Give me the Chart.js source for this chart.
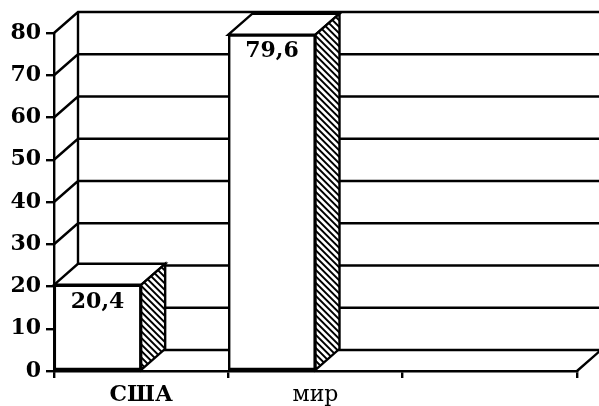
<!DOCTYPE html>
<html>
<head>
<meta charset="utf-8">
<script src="https://cdn.jsdelivr.net/npm/chart.js@4.4.1/dist/chart.umd.min.js"></script>
<style>
  html, body { margin: 0; padding: 0; background: #fff; }
</style>
</head>
<body>
<canvas id="myChart" width="599" height="406"></canvas>
<script>
// data
const categories = ['США', 'мир', ''];
const values = [20.4, 79.6, null];
const valueLabels = ['20,4', '79,6', ''];
const yMin = 0;
const yMax = 80;
const yStep = 10;

// fake 3D depth of the box and bars
const depthX = 24;
const depthY = -21;
const serif = "'DejaVu Serif', serif";
const lw = 2.4;

const box3d = {
    id: 'box3d',
    beforeDatasetsDraw(chart) {
        const ctx = chart.ctx;
        const a = chart.chartArea;
        const y = chart.scales.y;
        ctx.save();
        ctx.strokeStyle = '#000';
        ctx.lineWidth = lw;
        ctx.beginPath();
        for (let v = yMin; v <= yMax; v += yStep) {
            const py = y.getPixelForValue(v);
            ctx.moveTo(a.left, py);
            ctx.lineTo(a.left + depthX, py + depthY);
            ctx.lineTo(a.right + depthX + 10, py + depthY);
        }
        // back left edge of the box
        ctx.moveTo(a.left + depthX, y.getPixelForValue(yMax) + depthY);
        ctx.lineTo(a.left + depthX, y.getPixelForValue(yMin) + depthY);
        // right edge of the floor
        ctx.moveTo(a.right, a.bottom);
        ctx.lineTo(a.right + depthX, a.bottom + depthY);
        ctx.stroke();
        ctx.restore();
    },
    afterDatasetsDraw(chart) {
        const ctx = chart.ctx;
        const meta = chart.getDatasetMeta(0);
        ctx.save();
        ctx.strokeStyle = '#000';
        meta.data.forEach((bar, i) => {
            if (values[i] == null) return;
            const p = bar.getProps(['x', 'y', 'base', 'width'], true);
            const l = p.x - p.width / 2;
            const r = p.x + p.width / 2;
            const top = p.y;
            const base = p.base;

            // top face
            ctx.beginPath();
            ctx.moveTo(l, top);
            ctx.lineTo(l + depthX, top + depthY);
            ctx.lineTo(r + depthX, top + depthY);
            ctx.lineTo(r, top);
            ctx.closePath();
            ctx.fillStyle = '#fff';
            ctx.fill();
            ctx.lineWidth = lw;
            ctx.stroke();

            // side face, hatched
            ctx.beginPath();
            ctx.moveTo(r, top);
            ctx.lineTo(r + depthX, top + depthY);
            ctx.lineTo(r + depthX, base + depthY);
            ctx.lineTo(r, base);
            ctx.closePath();
            ctx.fillStyle = '#fff';
            ctx.fill();
            ctx.save();
            ctx.clip();
            ctx.lineWidth = 2;
            ctx.beginPath();
            for (let k = top + depthY - depthX - 6; k < base + 6; k += 6.5) {
                ctx.moveTo(r - 2, k - 2);
                ctx.lineTo(r + depthX + 2, k + depthX + 2);
            }
            ctx.stroke();
            ctx.restore();
            ctx.lineWidth = lw;
            ctx.beginPath();
            ctx.moveTo(r, top);
            ctx.lineTo(r + depthX, top + depthY);
            ctx.lineTo(r + depthX, base + depthY);
            ctx.lineTo(r, base);
            ctx.closePath();
            ctx.stroke();

            // value label inside the front face
            ctx.fillStyle = '#000';
            ctx.font = 'bold 22px ' + serif;
            ctx.textAlign = 'center';
            ctx.textBaseline = 'middle';
            ctx.fillText(valueLabels[i], p.x, top + 17);
        });
        ctx.restore();
    }
};

const config = {
    type: 'bar',
    data: {
        labels: categories,
        datasets: [
            {
                data: values,
                backgroundColor: '#fff',
                borderColor: '#000',
                borderWidth: lw,
                borderSkipped: false,
                barPercentage: 1,
                categoryPercentage: 1
            },
            {
                // empty second slot so each bar sits in the left half of its category
                data: categories.map(() => null),
                barPercentage: 1,
                categoryPercentage: 1
            }
        ]
    },
    options: {
        responsive: false,
        animation: false,
        layout: {
            padding: { top: 33, right: 22, left: 0, bottom: 0 }
        },
        plugins: {
            legend: { display: false },
            tooltip: { enabled: false }
        },
        scales: {
            x: {
                grid: {
                    display: true,
                    drawOnChartArea: false,
                    tickLength: 7,
                    color: '#000',
                    lineWidth: lw
                },
                border: { display: true, color: '#000', width: lw },
                ticks: {
                    color: '#000',
                    padding: 4,
                    font: (c) => c.index === 0
                        ? { family: serif, size: 22, weight: 'bold' }
                        : { family: serif, size: 22, weight: 'normal' }
                },
                afterFit: (scale) => { scale.height = 35; }
            },
            y: {
                min: yMin,
                max: yMax,
                grid: {
                    display: true,
                    drawOnChartArea: false,
                    tickLength: 8,
                    color: '#000',
                    lineWidth: lw
                },
                border: { display: true, color: '#000', width: lw },
                ticks: {
                    stepSize: yStep,
                    color: '#000',
                    padding: 5,
                    font: { family: serif, size: 22, weight: 'bold' }
                },
                afterFit: (scale) => { scale.width = 54; }
            }
        }
    },
    plugins: [box3d]
};

var myChart;

window.addEventListener('load', _ => {
    if (!myChart) {
        myChart = new Chart(document.getElementById('myChart').getContext('2d'), config);
    }
});
</script>
</body>
</html>
